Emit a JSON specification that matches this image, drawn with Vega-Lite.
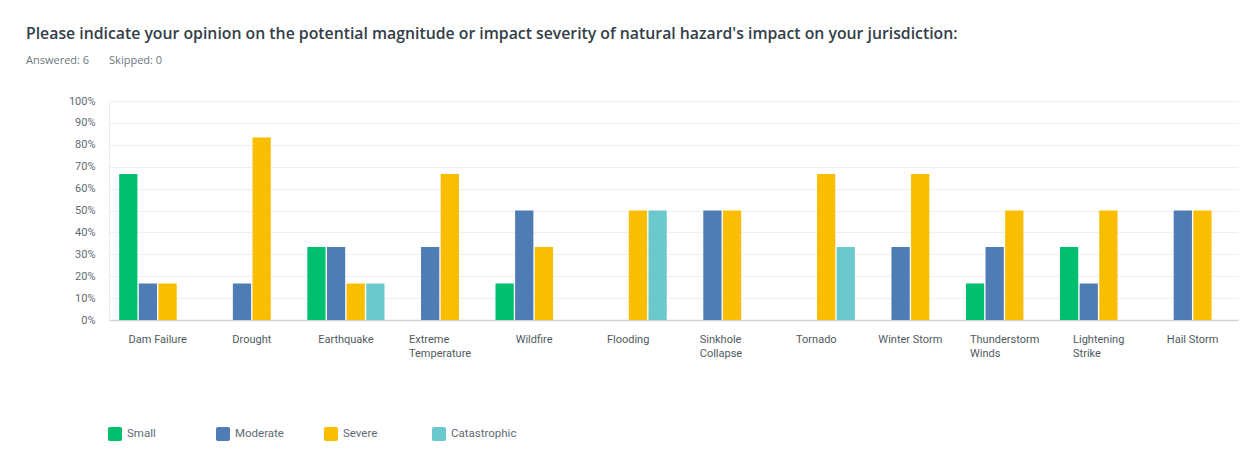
{
  "$schema": "https://vega.github.io/schema/vega-lite/v6.json",
  "width": 1129,
  "height": 219,
  "autosize": "none",
  "padding": {"left": 109, "top": 101, "right": 19, "bottom": 141},
  "background": "white",
  "title": {
    "text": "Please indicate your opinion on the potential magnitude or impact severity of natural hazard's impact on your jurisdiction:",
    "subtitle": "Answered: 6\u00a0\u00a0\u00a0\u00a0\u00a0\u00a0 Skipped: 0",
    "anchor": "start",
    "frame": "group",
    "dx": -83,
    "offset": 28,
    "font": "Open Sans",
    "fontSize": 15.8,
    "fontWeight": 600,
    "color": "#333e48",
    "subtitleFont": "Open Sans",
    "subtitleFontSize": 11,
    "subtitleColor": "#6b787f",
    "subtitlePadding": 12
  },
  "data": {
    "values": [
      {"hazard": "Dam Failure", "rating": "Small", "value": 0.6667},
      {"hazard": "Dam Failure", "rating": "Moderate", "value": 0.1667},
      {"hazard": "Dam Failure", "rating": "Severe", "value": 0.1667},
      {"hazard": "Drought", "rating": "Moderate", "value": 0.1667},
      {"hazard": "Drought", "rating": "Severe", "value": 0.8333},
      {"hazard": "Earthquake", "rating": "Small", "value": 0.3333},
      {"hazard": "Earthquake", "rating": "Moderate", "value": 0.3333},
      {"hazard": "Earthquake", "rating": "Severe", "value": 0.1667},
      {"hazard": "Earthquake", "rating": "Catastrophic", "value": 0.1667},
      {"hazard": "Extreme Temperature", "rating": "Moderate", "value": 0.3333},
      {"hazard": "Extreme Temperature", "rating": "Severe", "value": 0.6667},
      {"hazard": "Wildfire", "rating": "Small", "value": 0.1667},
      {"hazard": "Wildfire", "rating": "Moderate", "value": 0.5},
      {"hazard": "Wildfire", "rating": "Severe", "value": 0.3333},
      {"hazard": "Flooding", "rating": "Severe", "value": 0.5},
      {"hazard": "Flooding", "rating": "Catastrophic", "value": 0.5},
      {"hazard": "Sinkhole Collapse", "rating": "Moderate", "value": 0.5},
      {"hazard": "Sinkhole Collapse", "rating": "Severe", "value": 0.5},
      {"hazard": "Tornado", "rating": "Severe", "value": 0.6667},
      {"hazard": "Tornado", "rating": "Catastrophic", "value": 0.3333},
      {"hazard": "Winter Storm", "rating": "Moderate", "value": 0.3333},
      {"hazard": "Winter Storm", "rating": "Severe", "value": 0.6667},
      {"hazard": "Thunderstorm Winds", "rating": "Small", "value": 0.1667},
      {"hazard": "Thunderstorm Winds", "rating": "Moderate", "value": 0.3333},
      {"hazard": "Thunderstorm Winds", "rating": "Severe", "value": 0.5},
      {"hazard": "Lightening Strike", "rating": "Small", "value": 0.3333},
      {"hazard": "Lightening Strike", "rating": "Moderate", "value": 0.1667},
      {"hazard": "Lightening Strike", "rating": "Severe", "value": 0.5},
      {"hazard": "Hail Storm", "rating": "Moderate", "value": 0.5},
      {"hazard": "Hail Storm", "rating": "Severe", "value": 0.5}
    ]
  },
  "mark": {"type": "bar"},
  "encoding": {
    "x": {
      "field": "hazard",
      "type": "nominal",
      "sort": ["Dam Failure", "Drought", "Earthquake", "Extreme Temperature", "Wildfire", "Flooding", "Sinkhole Collapse", "Tornado", "Winter Storm", "Thunderstorm Winds", "Lightening Strike", "Hail Storm"],
      "scale": {"paddingInner": 0.18, "paddingOuter": 0.09, "align": 0.6},
      "axis": {
        "title": null,
        "labelAngle": 0,
        "ticks": false,
        "domainColor": "#d3d3d3",
        "domainWidth": 1.5,
        "labelPadding": 13,
        "labelFont": "Roboto",
        "labelFontSize": 11,
        "labelColor": "#4f5a60",
        "labelLineHeight": 14,
        "labelBaseline": "top",
        "labelExpr": "datum.value == 'Extreme Temperature' ? ['Extreme', 'Temperature'] : datum.value == 'Sinkhole Collapse' ? ['Sinkhole', 'Collapse'] : datum.value == 'Thunderstorm Winds' ? ['Thunderstorm', 'Winds'] : datum.value == 'Lightening Strike' ? ['Lightening', 'Strike'] : datum.value",
        "labelAlign": {
          "condition": {"test": "datum.value == 'Extreme Temperature' || datum.value == 'Sinkhole Collapse' || datum.value == 'Thunderstorm Winds' || datum.value == 'Lightening Strike'", "value": "left"},
          "value": "center"
        },
        "labelOffset": {
          "condition": [
            {"test": "datum.value == 'Extreme Temperature'", "value": -31},
            {"test": "datum.value == 'Sinkhole Collapse'", "value": -22.5},
            {"test": "datum.value == 'Thunderstorm Winds'", "value": -34.5},
            {"test": "datum.value == 'Lightening Strike'", "value": -25.5}
          ],
          "value": 0
        }
      }
    },
    "xOffset": {
      "field": "rating",
      "type": "nominal",
      "sort": ["Small", "Moderate", "Severe", "Catastrophic"],
      "scale": {"paddingInner": 0.07, "paddingOuter": 0}
    },
    "y": {
      "field": "value",
      "type": "quantitative",
      "scale": {"domain": [0, 1]},
      "axis": {
        "title": null,
        "format": ".0%",
        "values": [0, 0.1, 0.2, 0.3, 0.4, 0.5, 0.6, 0.7, 0.8, 0.9, 1],
        "ticks": false,
        "domainColor": "#ececec",
        "gridColor": "#efefef",
        "gridWidth": 1,
        "labelPadding": 14,
        "labelFont": "Roboto",
        "labelFontSize": 11,
        "labelColor": "#5f6b72"
      }
    },
    "color": {
      "field": "rating",
      "type": "nominal",
      "scale": {
        "domain": ["Small", "Moderate", "Severe", "Catastrophic"],
        "range": ["#00bf6f", "#507cb6", "#f9be00", "#6bc8cd"]
      },
      "legend": {
        "title": null,
        "orient": "none",
        "legendX": -1,
        "legendY": 326,
        "direction": "horizontal",
        "columns": 4,
        "gridAlign": "all",
        "columnPadding": 23,
        "padding": 0,
        "symbolType": "M -0.75 -1 H 0.75 Q 1 -1 1 -0.75 V 0.75 Q 1 1 0.75 1 H -0.75 Q -1 1 -1 0.75 V -0.75 Q -1 -1 -0.75 -1 Z",
        "symbolSize": 196,
        "symbolStrokeWidth": 0,
        "symbolOpacity": 1,
        "labelOffset": 5,
        "labelFont": "Roboto",
        "labelFontSize": 11.5,
        "labelColor": "#5f6b72"
      }
    }
  },
  "config": {
    "view": {"stroke": null}
  }
}
